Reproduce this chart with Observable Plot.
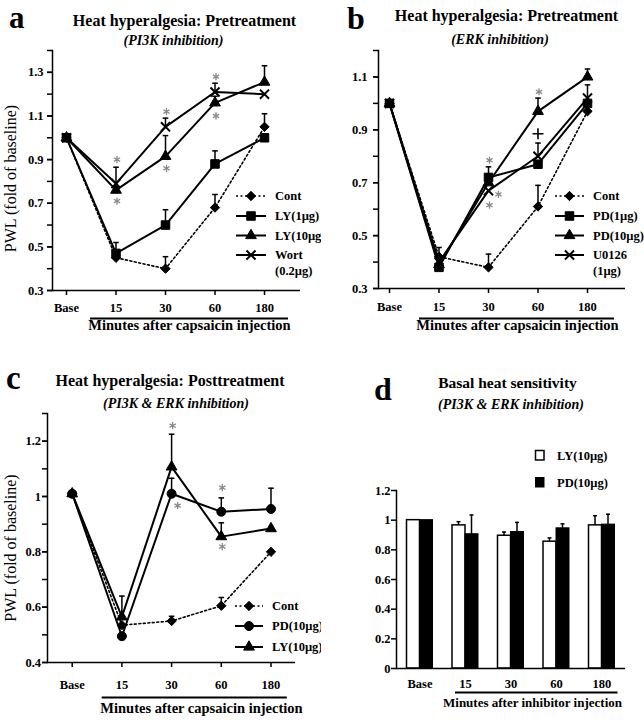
<!DOCTYPE html>
<html><head><meta charset="utf-8">
<script src="https://cdn.jsdelivr.net/npm/d3@7"></script>
<script src="https://cdn.jsdelivr.net/npm/@observablehq/plot@0.6"></script>
<style>
body{margin:0;background:#fff;}
#root{position:relative;width:644px;height:720px;overflow:hidden;font-family:"Liberation Serif","Times New Roman",serif;color:#000;background:#fff;}
.abs{position:absolute;white-space:nowrap;line-height:1;}
</style></head><body><div id="root"></div>
<script>
// ---------- shared categories ----------
const timeLabels = ["Base", "15", "30", "60", "180"];

// ---------- panel a : PI3K pretreatment ----------
const aCont   = [1.00, 0.45, 0.40, 0.68, 1.05];
const aContSE = [0, 0, 0.055, 0.06, 0.06];
const aLY1    = [1.00, 0.47, 0.60, 0.88, 1.00];
const aLY1SE  = [0, 0.05, 0.07, 0.06, 0];
const aLY10   = [1.00, 0.76, 0.915, 1.16, 1.255];
const aLY10SE = [0, 0, 0.095, 0.03, 0.075];
const aWort   = [1.00, 0.79, 1.05, 1.21, 1.20];
const aWortSE = [0, 0.075, 0.04, 0.04, 0];
const aStars  = [{t:"15",v:0.90},{t:"15",v:0.71},{t:"30",v:1.12},{t:"30",v:0.86},{t:"60",v:1.28},{t:"60",v:1.10}];

// ---------- panel b : ERK pretreatment ----------
const bCont    = [1.00, 0.42, 0.38, 0.61, 0.97];
const bContSE  = [0, 0, 0.05, 0.08, 0];
const bPD1     = [1.00, 0.38, 0.72, 0.77, 1.00];
const bPD1SE   = [0, 0.075, 0.04, 0, 0];
const bPD10    = [1.00, 0.39, 0.70, 0.97, 1.10];
const bPD10SE  = [0, 0, 0, 0.05, 0.03];
const bU0126   = [1.00, 0.40, 0.67, 0.80, 1.02];
const bU0126SE = [0, 0, 0, 0.05, 0.05];
const bStars   = [{t:"30",v:0.785,dx:0},{t:"30",v:0.656,dx:9},{t:"30",v:0.615,dx:0},{t:"60",v:1.044,dx:0}];
const bPlus    = [{t:"60",v:0.885}];

// ---------- panel c : posttreatment ----------
const cCont   = [1.01, 0.535, 0.55, 0.605, 0.80];
const cContSE = [0, 0, 0.017, 0.03, 0];
const cPD10   = [1.01, 0.495, 1.01, 0.945, 0.955];
const cPD10SE = [0, 0, 0.056, 0.05, 0.075];
const cLY10   = [1.01, 0.565, 1.107, 0.855, 0.884];
const cLY10SE = [0, 0.075, 0.118, 0.05, 0];
const cStars  = [{t:"30",v:1.256,dx:0},{t:"30",v:0.967,dx:5},{t:"60",v:1.032,dx:0},{t:"60",v:0.819,dx:0}];

// ---------- panel d : basal heat sensitivity ----------
const dLY   = [1.00, 0.965, 0.895, 0.855, 0.965];
const dLYSE = [0, 0.025, 0.025, 0.025, 0.065];
const dPD   = [1.00, 0.905, 0.92, 0.945, 0.97];
const dPDSE = [0, 0.13, 0.065, 0.03, 0.07];

// ---------- helpers ----------
const FONT = '"Liberation Serif","Times New Roman",serif';
const root = document.getElementById("root");
const capSymbol = {draw(ctx, size){ const w = Math.sqrt(size/Math.PI); ctx.moveTo(-w,0); ctx.lineTo(w,0); }};
function rows(vals, se){ return vals.map((v,i)=>({t: timeLabels[i], v, top: v + se[i], se: se[i]})); }
function range(a, b, s){ const out=[]; for(let k=0; a + k*s <= b + 1e-9; k++) out.push(+(a + k*s).toFixed(2)); return out; }

function linePanel(p){
  const marks = [
    Plot.axisY({ticks: p.minor, tickSize: 5, tickFormat: () => "", strokeWidth: 1.5, label: null}),
    Plot.axisY({ticks: p.major, tickSize: 5, tickPadding: p.yPad, tickFormat: p.fmt, strokeWidth: 1.5, fontSize: 12.5, label: null}),
    Plot.axisX({tickSize: 5, tickPadding: p.xPad, strokeWidth: 1.5, fontSize: 12.5, label: null}),
    Plot.frame({anchor: "left", strokeWidth: 1.5}),
    Plot.ruleY([p.y[0]], {strokeWidth: 1.5}),
    Plot.ruleY([{y: p.y[0], x1: "15", x2: "180"}], {y: "y", x1: "x1", x2: "x2", dy: p.br.dy, insetLeft: p.br.l, insetRight: p.br.r, strokeWidth: 2}),
    Plot.text([p.xlabel], {frameAnchor: "bottom", dx: p.xl.dx, dy: p.xl.dy, fontSize: 14.5, fontWeight: "bold"})
  ];
  if (p.yl) marks.push(Plot.text(["PWL (fold of baseline)"], {frameAnchor: "left", textAnchor: "middle", lineAnchor: "middle", rotate: -90, dx: p.yl.dx, dy: p.yl.dy, fontSize: 16, fontWeight: "normal"}));
  for (const s of p.series) marks.push(Plot.line(rows(s.v, s.se), {x: "t", y: "v", stroke: "black", strokeWidth: s.dash ? 1.6 : 2, strokeDasharray: s.dash}));
  for (const s of p.series) {
    const r = rows(s.v, s.se).filter(d => d.se > 0);
    marks.push(Plot.ruleX(r, {x: "t", y1: "v", y2: "top", strokeWidth: 1.5}));
    marks.push(Plot.dot(r, {x: "t", y: "top", symbol: capSymbol, r: 2.8, stroke: "black", fill: "none", strokeWidth: 1.5}));
  }
  for (const s of p.series) {
    const times = s.symbol === "times";
    marks.push(Plot.dot(rows(s.v, s.se), {x: "t", y: "v", symbol: s.symbol, r: s.r, fill: times ? "none" : "black", stroke: "black", strokeWidth: times ? 2 : 1}));
  }
  const dxs = [...new Set(p.stars.map(d => d.dx || 0))];
  for (const dx of dxs) marks.push(Plot.dot(p.stars.filter(d => (d.dx || 0) === dx), {x: "t", y: "v", symbol: "asterisk", r: 3.4, dx: dx + 1, stroke: "#8a8a8a", strokeWidth: 1.3}));
  if (p.plus) marks.push(Plot.dot(p.plus, {x: "t", y: "v", symbol: "plus", r: 3.6, stroke: "black", fill: "none", strokeWidth: 1.6}));
  return Plot.plot({
    width: 322, height: 360,
    marginLeft: p.m[0], marginRight: p.m[1], marginTop: p.m[2], marginBottom: p.m[3],
    style: {fontFamily: FONT, fontWeight: "bold", fontSize: "12.5px", background: "transparent", overflow: "visible", color: "black"},
    x: {type: "point", domain: timeLabels, padding: p.pad, align: p.align, round: false},
    y: {domain: p.y},
    marks
  });
}

function place(el, left, top){ el.style.position = "absolute"; el.style.left = left + "px"; el.style.top = top + "px"; root.appendChild(el); }

// ---------- panel a ----------
place(linePanel({
  m: [52, 22, 50, 70], y: [0.3, 1.4], pad: 0.505, align: 0.28,
  minor: range(0.3, 1.4, 0.1), major: [0.3, 0.5, 0.7, 0.9, 1.1, 1.3], fmt: d3.format(".1f"),
  yPad: 4, xPad: 7.75,
  br: {dy: 28, l: -25.5, r: -24}, xl: {dx: 13, dy: 39.5}, yl: {dx: -42, dy: 8},
  xlabel: "Minutes after capsaicin injection",
  series: [
    {v: aCont, se: aContSE, symbol: "diamond2", r: 4.2, dash: "2,2.5"},
    {v: aWort, se: aWortSE, symbol: "times", r: 4.2},
    {v: aLY10, se: aLY10SE, symbol: "triangle", r: 4},
    {v: aLY1, se: aLY1SE, symbol: "square", r: 4.8}
  ],
  stars: aStars
}), 0, 0);

// ---------- panel b ----------
place(linePanel({
  m: [56, 19, 50, 72], y: [0.3, 1.2], pad: 0.495, align: 0.2245,
  minor: range(0.3, 1.2, 0.1), major: [0.3, 0.5, 0.7, 0.9, 1.1], fmt: d3.format(".1f"),
  yPad: 6, xPad: 8.75,
  br: {dy: 30, l: -19.5, r: -27}, xl: {dx: 15.5, dy: 41.5}, yl: null,
  xlabel: "Minutes after capsaicin injection",
  series: [
    {v: bCont, se: bContSE, symbol: "diamond2", r: 4.2, dash: "2,2.5"},
    {v: bU0126, se: bU0126SE, symbol: "times", r: 4.2},
    {v: bPD10, se: bPD10SE, symbol: "triangle", r: 4},
    {v: bPD1, se: bPD1SE, symbol: "square", r: 4.8}
  ],
  stars: bStars, plus: bPlus
}), 322, 0);

// ---------- panel c ----------
place(linePanel({
  m: [47, 27, 53, 58], y: [0.4, 1.3], pad: 0.495, align: 0.502,
  minor: range(0.4, 1.3, 0.1), major: [0.4, 0.6, 0.8, 1.0, 1.2], fmt: d => String(d),
  yPad: 1.5, xPad: 12.25,
  br: {dy: 35, l: -19.7, r: -16.3}, xl: {dx: 30, dy: 50}, yl: {dx: -37, dy: 10},
  xlabel: "Minutes after capsaicin injection",
  series: [
    {v: cCont, se: cContSE, symbol: "diamond2", r: 4.2, dash: "2,2.5"},
    {v: cPD10, se: cPD10SE, symbol: "circle", r: 4.5},
    {v: cLY10, se: cLY10SE, symbol: "triangle", r: 4}
  ],
  stars: cStars
}), 0, 360);

// ---------- panel d ----------
(function(){
  const bars = timeLabels.map((t,i) => ({t, ly: dLY[i], pd: dPD[i]}));
  const lyErr = rows(dLY, dLYSE).filter(d => d.se > 0);
  const pdErr = rows(dPD, dPDSE).filter(d => d.se > 0);
  const svg = Plot.plot({
    width: 322, height: 360, marginLeft: 74, marginRight: 19, marginTop: 130, marginBottom: 52,
    style: {fontFamily: FONT, fontWeight: "bold", fontSize: "12.5px", background: "transparent", overflow: "visible", color: "black"},
    x: {type: "band", domain: timeLabels, paddingInner: 0.4286, paddingOuter: 0.2308, round: false},
    y: {domain: [0, 1.2]},
    marks: [
      Plot.axisY({ticks: [0, 0.2, 0.4, 0.6, 0.8, 1, 1.2], tickSize: 5, tickPadding: 1, tickFormat: d => String(d), strokeWidth: 1.5, fontSize: 12.5, label: null}),
      Plot.axisX({tickSize: 0, tickPadding: 10.25, fontSize: 12.5, label: null}),
      Plot.barY(bars, {x: "t", y: "ly", fill: "white", stroke: "black", strokeWidth: 1.5, insetRight: 13}),
      Plot.barY(bars, {x: "t", y: "pd", fill: "black", stroke: "black", strokeWidth: 1, insetLeft: 13}),
      Plot.barY(lyErr, {x: "t", y1: "v", y2: "top", fill: "black", insetLeft: 5.75, insetRight: 18.75}),
      Plot.tickY(lyErr, {x: "t", y: "top", insetLeft: 4.5, insetRight: 17.5, strokeWidth: 1.5}),
      Plot.barY(pdErr, {x: "t", y1: "v", y2: "top", fill: "black", insetLeft: 18.75, insetRight: 5.75}),
      Plot.tickY(pdErr, {x: "t", y: "top", insetLeft: 17.5, insetRight: 4.5, strokeWidth: 1.5}),
      Plot.frame({anchor: "left", strokeWidth: 1.5}),
      Plot.ruleY([0], {strokeWidth: 1.5}),
      Plot.ruleY([{y: 0, x1: "15", x2: "180"}], {y: "y", x1: "x1", x2: "x2", dy: 24, insetLeft: 3, insetRight: -3, strokeWidth: 2}),
      Plot.text(["Minutes after inhibitor injection"], {frameAnchor: "bottom", dx: 21.5, dy: 38, fontSize: 13, fontWeight: "bold"})
    ]
  });
  place(svg, 322, 360);
})();

// ---------- titles ----------
function addText(txt, o){
  const d = document.createElement("div");
  d.className = "abs"; d.textContent = txt;
  d.style.fontSize = o.size + "px"; d.style.fontWeight = o.weight || "bold"; d.style.fontStyle = o.italic ? "italic" : "normal";
  if (o.center) d.style.transform = "translateX(-50%)";
  place(d, o.x, o.y);
}
addText("a", {x: 9, y: 2, size: 31});
addText("b", {x: 347, y: 2, size: 32});
addText("c", {x: 6, y: 362.4, size: 33});
addText("d", {x: 374, y: 373.2, size: 32});
addText("Heat hyperalgesia: Pretreatment", {x: 184.5, y: 13.3, size: 16, center: true});
addText("(PI3K inhibition)", {x: 173.5, y: 33.8, size: 14, italic: true, center: true});
addText("Heat hyperalgesia: Pretreatment", {x: 506.5, y: 7.6, size: 16, center: true});
addText("(ERK inhibition)", {x: 500, y: 32.8, size: 14, italic: true, center: true});
addText("Heat hyperalgesia: Posttreatment", {x: 170, y: 373.3, size: 16, center: true});
addText("(PI3K & ERK inhibition)", {x: 176, y: 397.3, size: 14, italic: true, center: true});
addText("Basal heat sensitivity", {x: 507.5, y: 375.3, size: 15.5, center: true});
addText("(PI3K & ERK inhibition)", {x: 511, y: 397.8, size: 14, italic: true, center: true});

// ---------- legends ----------
const ov = d3.select(root).append("svg").attr("width", 644).attr("height", 720)
  .style("position", "absolute").style("left", "0px").style("top", "0px")
  .style("font-family", FONT).style("font-weight", "bold").style("font-size", "12.5px");
ov.append("defs").append("clipPath").attr("id", "clipLeft").append("rect").attr("x", 0).attr("y", 0).attr("width", 321).attr("height", 720);
const SYM = {diamond2: d3.symbolDiamond2, square: d3.symbolSquare, triangle: d3.symbolTriangle, times: d3.symbolTimes, circle: d3.symbolCircle};
function legend(x0, x1, tx, items, clip){
  const g = ov.append("g"); if (clip) g.attr("clip-path", "url(#clipLeft)");
  for (const it of items) {
    if (it.symbol) {
      g.append("line").attr("x1", x0).attr("x2", x1).attr("y1", it.y).attr("y2", it.y)
        .attr("stroke", "black").attr("stroke-width", it.dash ? 1.6 : 2).attr("stroke-dasharray", it.dash || null);
      const times = it.symbol === "times";
      g.append("path").attr("transform", `translate(${(x0 + x1) / 2},${it.y})`)
        .attr("d", d3.symbol(SYM[it.symbol], Math.PI * it.r * it.r)())
        .attr("fill", times ? "none" : "black").attr("stroke", "black").attr("stroke-width", times ? 2 : 1);
    }
    g.append("text").attr("x", tx).attr("y", it.y + 4).text(it.label);
  }
}
legend(236, 266, 275, [
  {y: 196, label: "Cont", symbol: "diamond2", r: 4.2, dash: "2,2.5"},
  {y: 216, label: "LY(1µg)", symbol: "square", r: 4.8},
  {y: 235.5, label: "LY(10µg)", symbol: "triangle", r: 4},
  {y: 255, label: "Wort", symbol: "times", r: 4.2},
  {y: 271, label: "(0.2µg)"}
], true);
legend(555, 584, 593, [
  {y: 196, label: "Cont", symbol: "diamond2", r: 4.2, dash: "2,2.5"},
  {y: 216, label: "PD(1µg)", symbol: "square", r: 4.8},
  {y: 235.5, label: "PD(10µg)", symbol: "triangle", r: 4},
  {y: 255, label: "U0126", symbol: "times", r: 4.2},
  {y: 271, label: "(1µg)"}
], false);
legend(235, 263, 272, [
  {y: 606, label: "Cont", symbol: "diamond2", r: 4.2, dash: "2,2.5"},
  {y: 626, label: "PD(10µg)", symbol: "circle", r: 4.5},
  {y: 647, label: "LY(10µg)", symbol: "triangle", r: 4}
], true);
// panel d legend (boxes)
const gd = ov.append("g");
gd.append("rect").attr("x", 535.5).attr("y", 450.5).attr("width", 8.5).attr("height", 9.5).attr("fill", "white").attr("stroke", "black").attr("stroke-width", 1.5);
gd.append("rect").attr("x", 535).attr("y", 477).attr("width", 9.5).attr("height", 10.5).attr("fill", "black");
gd.append("text").attr("x", 557).attr("y", 459.5).text("LY(10µg)");
gd.append("text").attr("x", 557).attr("y", 486.5).text("PD(10µg)");
</script>
</body></html>
